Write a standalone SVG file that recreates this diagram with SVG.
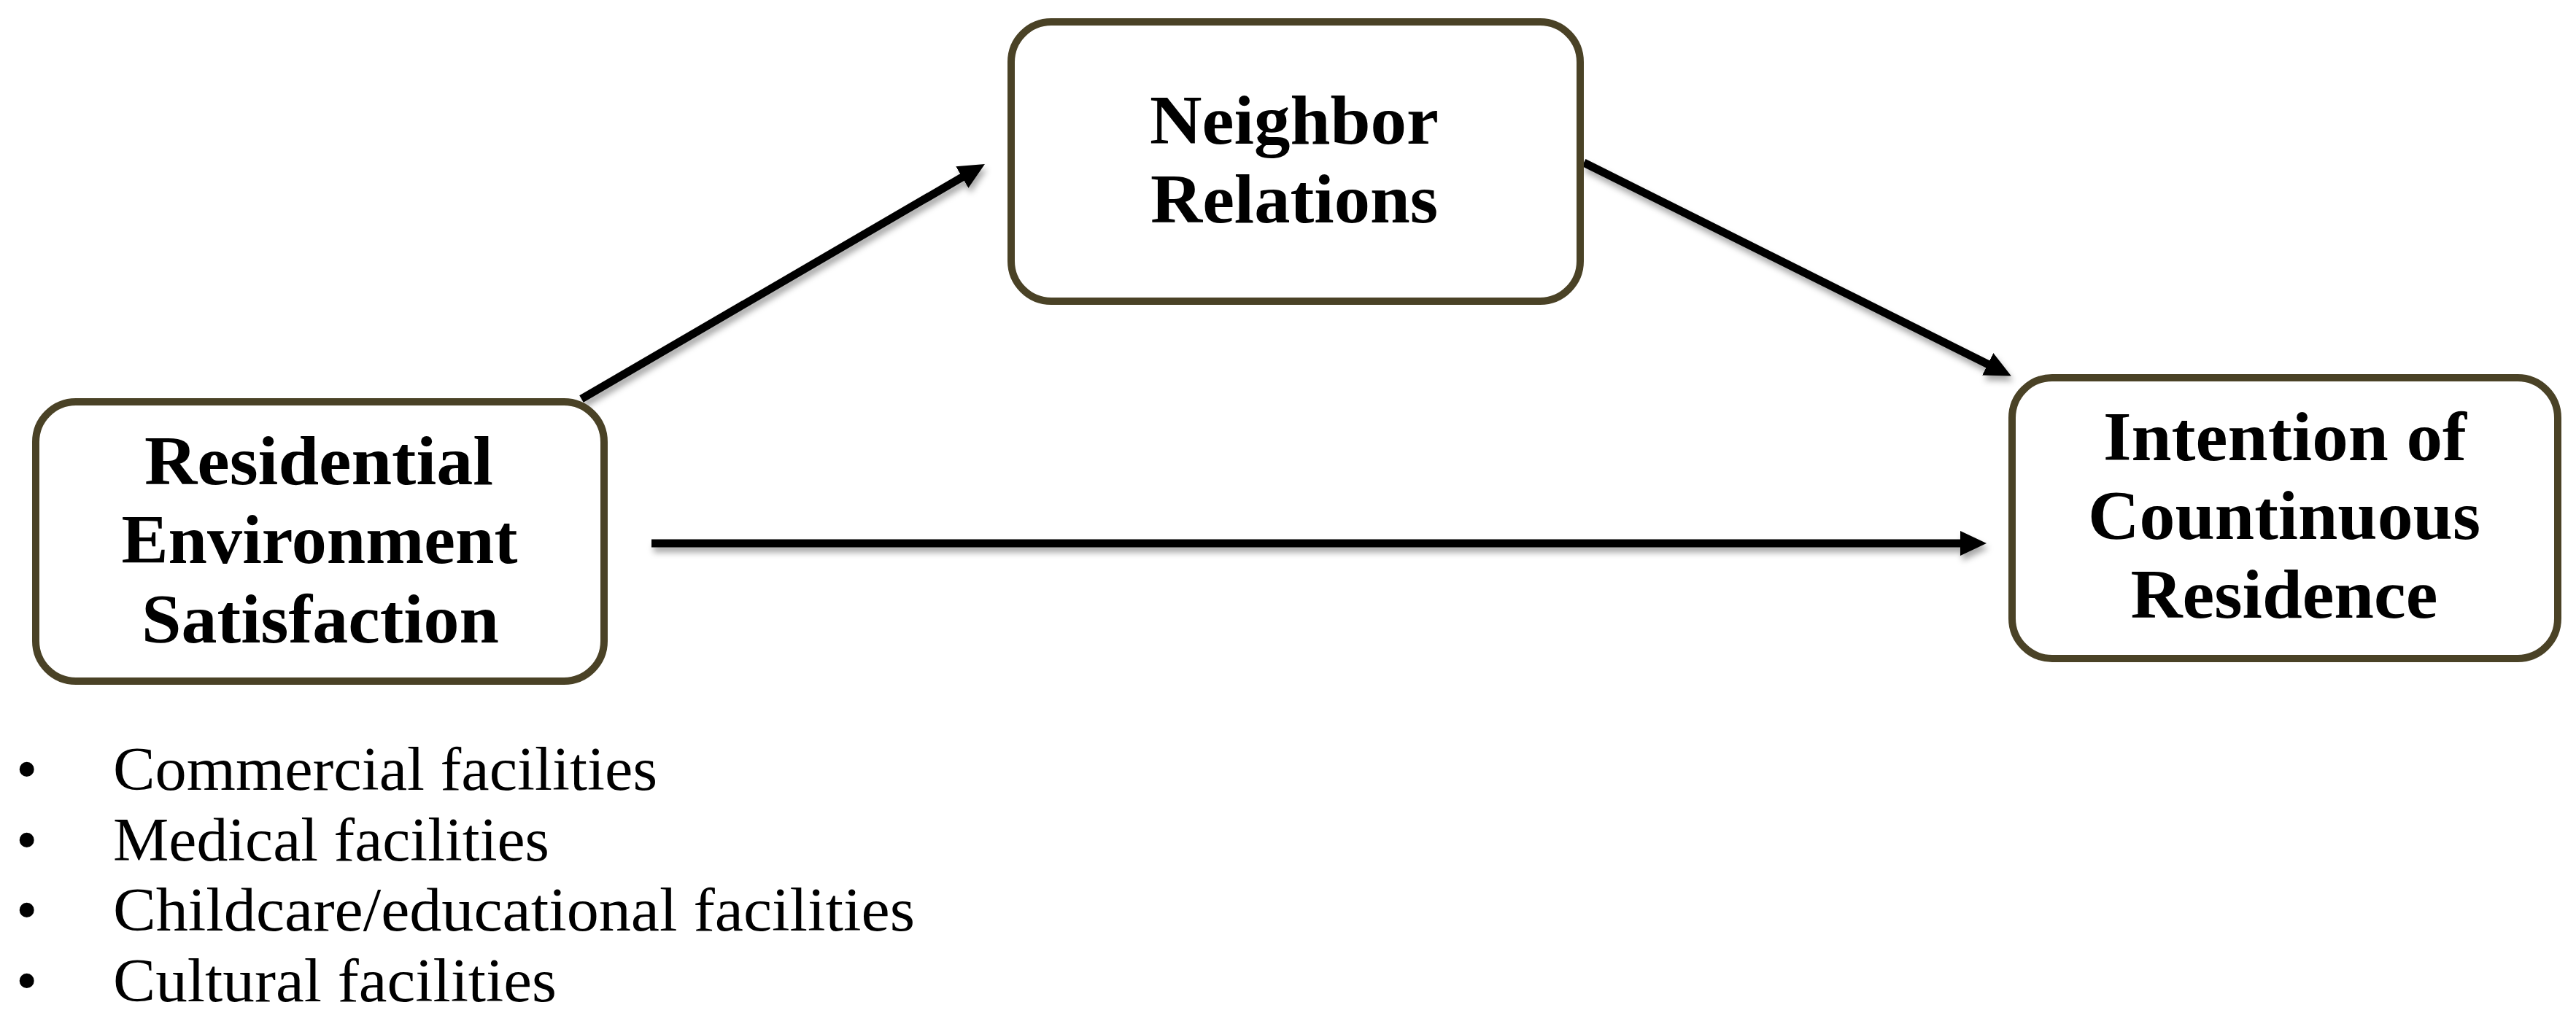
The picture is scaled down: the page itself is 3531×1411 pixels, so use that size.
<svg xmlns="http://www.w3.org/2000/svg" width="3531" height="1411" viewBox="0 0 3531 1411">
<style>
.box{fill:#ffffff;stroke:#4a4226;stroke-width:10}
.t{font-family:"Liberation Serif","Times New Roman",serif;font-weight:bold;font-size:96px;fill:#000;text-anchor:middle}
.b{font-family:"Liberation Serif","Times New Roman",serif;font-size:84px;fill:#000}
.c{stroke:#000;stroke-width:11;fill:none;marker-end:url(#ah)}
</style>
<defs>
<marker id="ah" markerUnits="userSpaceOnUse" markerWidth="40" markerHeight="36" refX="6" refY="17" orient="auto">
<path d="M0,0 L36,17 L0,34 Z" fill="#000"/>
</marker>
<filter id="sh" x="-10%" y="-10%" width="120%" height="130%">
<feDropShadow dx="3" dy="7" stdDeviation="4" flood-color="#000" flood-opacity="0.35"/>
</filter>
</defs>
<rect width="3531" height="1411" fill="#ffffff"/>
<g id="connectors" filter="url(#sh)">
<line class="c" x1="797" y1="547" x2="1324" y2="240"/>
<line class="c" x1="2171" y1="223" x2="2730" y2="502"/>
<line class="c" x1="893" y1="745" x2="2693" y2="745"/>
</g>
<g id="node-neighbor">
<rect class="box" x="1386" y="30" width="780" height="383" rx="55"/>
<text class="t" x="1774" y="197" textLength="396" lengthAdjust="spacingAndGlyphs">Neighbor</text>
<text class="t" x="1774" y="305" textLength="394" lengthAdjust="spacingAndGlyphs">Relations</text>
</g>
<g id="node-residential">
<rect class="box" x="49" y="551" width="779" height="383" rx="55"/>
<text class="t" x="437" y="664" textLength="478" lengthAdjust="spacingAndGlyphs">Residential</text>
<text class="t" x="438" y="772" textLength="543" lengthAdjust="spacingAndGlyphs">Environment</text>
<text class="t" x="439" y="881" textLength="490" lengthAdjust="spacingAndGlyphs">Satisfaction</text>
</g>
<g id="node-intention">
<rect class="box" x="2758" y="518" width="748" height="385" rx="55"/>
<text class="t" x="3132" y="631" textLength="498" lengthAdjust="spacingAndGlyphs">Intention of</text>
<text class="t" x="3131" y="739" textLength="538" lengthAdjust="spacingAndGlyphs">Countinuous</text>
<text class="t" x="3131" y="847" textLength="421" lengthAdjust="spacingAndGlyphs">Residence</text>
</g>
<g id="facilities-list">
<text class="b" x="22" y="1083">•</text>
<text class="b" x="155" y="1083" textLength="746" lengthAdjust="spacingAndGlyphs">Commercial facilities</text>
<text class="b" x="22" y="1180">•</text>
<text class="b" x="155" y="1180" textLength="598" lengthAdjust="spacingAndGlyphs">Medical facilities</text>
<text class="b" x="22" y="1276">•</text>
<text class="b" x="155" y="1276" textLength="1099" lengthAdjust="spacingAndGlyphs">Childcare/educational facilities</text>
<text class="b" x="22" y="1373">•</text>
<text class="b" x="155" y="1373" textLength="608" lengthAdjust="spacingAndGlyphs">Cultural facilities</text>
</g>
</svg>
